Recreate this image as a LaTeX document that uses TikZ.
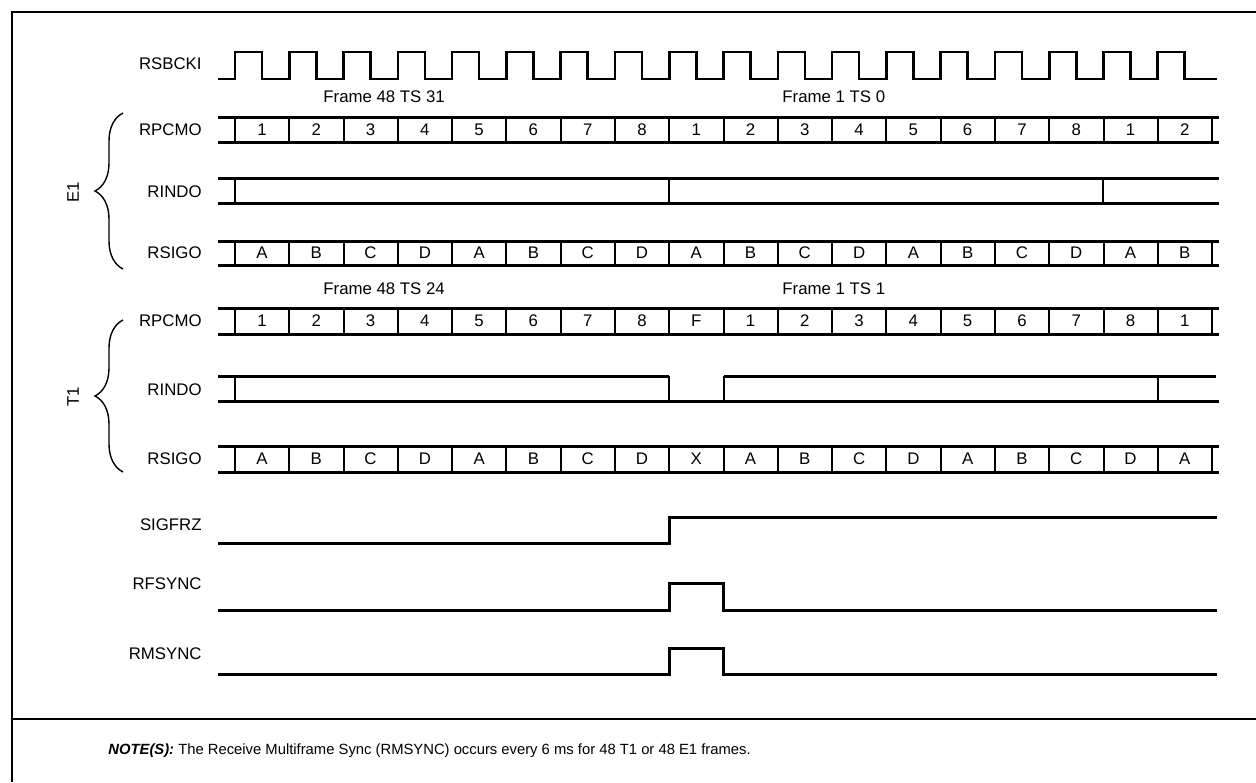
\documentclass[tikz,border=0pt]{standalone}
\usepackage{fontspec}
\setmainfont{Liberation Sans}
\usetikzlibrary{decorations.pathreplacing}

\begin{document}
\begin{tikzpicture}[
        x=0.5pt, y=-0.5pt,
        lbl/.style={anchor=east, inner sep=0pt, font=\fontsize{8.4}{10}\selectfont},
        cell/.style={inner sep=0pt, font=\fontsize{8.4}{10}\selectfont},
        frm/.style={anchor=west, inner sep=0pt, font=\fontsize{8.4}{10}\selectfont},
        grp/.style={anchor=center, inner sep=0pt, rotate=90, font=\fontsize{8.4}{10}\selectfont},
        wave/.style={line width=1.5pt},
        sep/.style={line width=1pt},
        curly/.style={decorate, decoration={brace, amplitude=14pt}, line width=0.7pt},
        border/.style={line width=1pt}
    ]
        \useasboundingbox (0,0) rectangle (1256,782);

        % Outer frame and note divider
        \draw[border] (1256,12) -- (12,12) -- (12,782);
        \draw[border] (12,719) -- (1256,719);

        % Signal names
        \node[lbl] (nclk) at (202,64) {RSBCKI};
        \node[lbl] (ne1pcm) at (202,130) {RPCMO};
        \node[lbl] (ne1ind) at (202,192) {RINDO};
        \node[lbl] (ne1sig) at (202,253) {RSIGO};
        \node[lbl] (nt1pcm) at (202,321) {RPCMO};
        \node[lbl] (nt1ind) at (202,390) {RINDO};
        \node[lbl] (nt1sig) at (202,459) {RSIGO};
        \node[lbl] (nfrz) at (202,525) {SIGFRZ};
        \node[lbl] (nfs) at (202,584) {RFSYNC};
        \node[lbl] (nms) at (202,654) {RMSYNC};

        % Groups
        \draw[curly] (123,269) -- (123,113);
        \node[grp] (ge1) at (73,192) {E1};
        \draw[curly] (123,472) -- (123,320);
        \node[grp] (gt1) at (73,397) {T1};

        % Clock
        \draw[wave, line width=1.3pt] (218,79)
            \foreach \k in {0,...,17} { -- ({235+54.28*\k},79) -- ({235+54.28*\k},52)
                -- ({262+54.28*\k},52) -- ({262+54.28*\k},79) } -- (1217,79);

        % Frame markers
        \node[frm] (fe1a) at (323,97) {Frame 48 TS 31};
        \node[frm] (fe1b) at (782,97) {Frame 1 TS 0};
        \node[frm] (ft1a) at (323,289) {Frame 48 TS 24};
        \node[frm] (ft1b) at (782,289) {Frame 1 TS 1};

        % E1: RPCMO
        \draw[wave] (218,117) -- (1219,117) (218,142) -- (1219,142);
        \foreach \k in {0,...,18} \draw[sep] ({235+54.28*\k},117) -- ({235+54.28*\k},142);
        \foreach \t [count=\k from 0] in {1,2,3,4,5,6,7,8,1,2,3,4,5,6,7,8,1,2}
            \node[cell] (e1pcm\k) at ({262+54.28*\k},130) {\t};

        % E1: RINDO
        \draw[wave] (218,178) -- (1219,178) (218,203) -- (1219,203);
        \foreach \x in {235,669,1103} \draw[sep] (\x,178) -- (\x,203);

        % E1: RSIGO
        \draw[wave] (218,241) -- (1219,241) (218,265) -- (1219,265);
        \foreach \k in {0,...,18} \draw[sep] ({235+54.28*\k},241) -- ({235+54.28*\k},265);
        \foreach \t [count=\k from 0] in {A,B,C,D,A,B,C,D,A,B,C,D,A,B,C,D,A,B}
            \node[cell] (e1sig\k) at ({262+54.28*\k},253) {\t};

        % T1: RPCMO
        \draw[wave] (218,308) -- (1219,308) (218,334) -- (1219,334);
        \foreach \k in {0,...,18} \draw[sep] ({235+54.28*\k},308) -- ({235+54.28*\k},334);
        \foreach \t [count=\k from 0] in {1,2,3,4,5,6,7,8,F,1,2,3,4,5,6,7,8,1}
            \node[cell] (t1pcm\k) at ({262+54.28*\k},321) {\t};

        % T1: RINDO
        \draw[wave] (218,376) -- (669,376) (723.5,376) -- (1216,376) (218,401) -- (1219,401);
        \foreach \x in {235,669,723.5,1157.8} \draw[sep] (\x,376) -- (\x,401);

        % T1: RSIGO
        \draw[wave] (218,446) -- (1219,446) (218,472) -- (1219,472);
        \foreach \k in {0,...,18} \draw[sep] ({235+54.28*\k},446) -- ({235+54.28*\k},472);
        \foreach \t [count=\k from 0] in {A,B,C,D,A,B,C,D,X,A,B,C,D,A,B,C,D,A}
            \node[cell] (t1sig\k) at ({262+54.28*\k},459) {\t};

        % Freeze and sync outputs
        \draw[wave] (218,543) -- (669,543) -- (669,517) -- (1217,517);
        \draw[wave] (218,610) -- (669,610) -- (669,583) -- (723.5,583) -- (723.5,610) -- (1217,610);
        \draw[wave] (218,674) -- (669,674) -- (669,648) -- (723.5,648) -- (723.5,674) -- (1217,674);

        % Note
        \node[anchor=west, inner sep=0pt, font=\fontsize{7.4}{9}\selectfont] (note) at (108,751)
            {\textbf{\textit{NOTE(S):}} The Receive Multiframe Sync (RMSYNC) occurs every 6 ms for 48 T1 or 48 E1 frames.};
    \end{tikzpicture}
\end{document}
